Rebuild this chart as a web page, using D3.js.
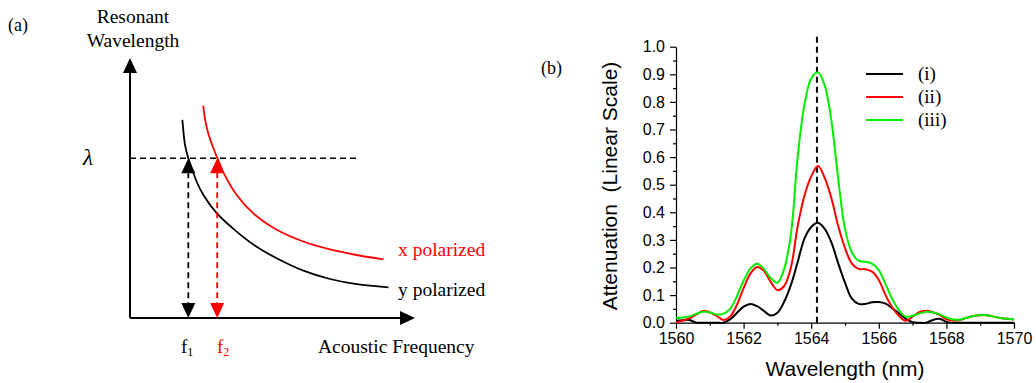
<!DOCTYPE html>
<html>
<head>
<meta charset="utf-8">
<script src="https://cdn.jsdelivr.net/npm/d3@7"></script>
<style>
  html, body { margin: 0; padding: 0; background: #fff; }
  svg { display: block; }
  .serif { font-family: "Liberation Serif", "Times New Roman", serif; }
  .sans { font-family: "Liberation Sans", Arial, sans-serif; }
</style>
</head>
<body>
<svg id="chart" width="1036" height="383"></svg>
<script>
// ---------------- Panel (a): schematic (arbitrary units 0..10) ----------------
const yPolFreq = [1.94, 2.04, 2.16, 2.47, 2.72, 3.21, 3.95, 4.69, 5.56, 6.42, 7.41, 8.40, 9.57];
const yPolLambda = [7.62, 6.65, 6.14, 5.24, 4.73, 4.03, 3.32, 2.74, 2.23, 1.82, 1.50, 1.30, 1.18];
const xPolFreq = [2.715, 2.778, 2.889, 3.037, 3.241, 3.519, 3.952, 4.567, 5.433, 6.419, 7.407, 8.396, 9.381];
const xPolLambda = [8.165, 7.654, 7.135, 6.673, 6.142, 5.473, 4.731, 4.023, 3.392, 2.942, 2.638, 2.423, 2.258];
const lambdaLevel = 6.14;
const lambdaLineEnd = 8.44;
const f1 = 2.16, f2 = 3.23;

// ---------------- Panel (b): measured spectra ----------------
const wavelengths = [
  1560.0,1560.2,1560.4,1560.6,1560.8,1561.0,1561.2,1561.4,1561.6,1561.8,
  1562.0,1562.2,1562.4,1562.6,1562.8,1563.0,1563.2,1563.4,1563.6,1563.8,
  1564.0,1564.2,1564.4,1564.6,1564.8,1565.0,1565.2,1565.4,1565.6,1565.8,
  1566.0,1566.2,1566.4,1566.6,1566.8,1567.0,1567.2,1567.4,1567.6,1567.8,
  1568.0,1568.2,1568.4,1568.6,1568.8,1569.0,1569.2,1569.4,1569.6,1569.8,1570.0];
const seriesI = [
  0.007,0.009,0.010,0.000,0.000,0.000,0.000,0.000,0.012,0.035,
  0.058,0.068,0.060,0.043,0.026,0.036,0.076,0.137,0.220,0.305,
  0.347,0.362,0.340,0.290,0.215,0.145,0.088,0.068,0.068,0.074,
  0.075,0.069,0.052,0.034,0.014,0.002,0.000,0.000,0.010,0.014,
  0.003,0.000,0.000,0.000,0.000,0.000,0.000,0.000,0.000,0.000,0.000];
const seriesII = [
  0.000,0.008,0.016,0.030,0.042,0.038,0.025,0.010,0.022,0.064,
  0.125,0.178,0.202,0.188,0.148,0.118,0.133,0.200,0.350,0.460,
  0.530,0.568,0.525,0.450,0.350,0.270,0.215,0.195,0.194,0.185,
  0.155,0.100,0.055,0.024,0.007,0.022,0.038,0.043,0.038,0.028,
  0.012,0.008,0.010,0.018,0.024,0.027,0.027,0.022,0.017,0.014,0.012];
const seriesIII = [
  0.016,0.019,0.023,0.032,0.040,0.037,0.030,0.032,0.050,0.095,
  0.152,0.196,0.214,0.195,0.162,0.145,0.195,0.320,0.600,0.790,
  0.885,0.907,0.860,0.730,0.520,0.340,0.255,0.225,0.221,0.214,
  0.190,0.140,0.085,0.045,0.022,0.025,0.033,0.040,0.037,0.030,
  0.019,0.012,0.011,0.018,0.024,0.027,0.027,0.022,0.017,0.014,0.012];
const seriesNames = ["(i)", "(ii)", "(iii)"];
const seriesColors = ["#000000", "#ff0000", "#00ee00"];
const peakWavelength = 1564.17;
const xTicks = [1560, 1562, 1564, 1566, 1568, 1570];
const yTicks = [0.0, 0.1, 0.2, 0.3, 0.4, 0.5, 0.6, 0.7, 0.8, 0.9, 1.0];

const svg = d3.select("#chart");

// ================= Panel (a) =================
const ax = d3.scaleLinear().domain([0, 10]).range([130, 400]);
const ay = d3.scaleLinear().domain([0, 10]).range([318, 58]);
const ga = svg.append("g");

// axes with arrowheads
ga.append("line").attr("x1", ax(0)).attr("y1", ay(0)).attr("x2", ax(0)).attr("y2", ay(10) + 4)
  .attr("stroke", "#000").attr("stroke-width", 2);
ga.append("line").attr("x1", ax(0)).attr("y1", ay(0)).attr("x2", ax(10) + 4).attr("y2", ay(0))
  .attr("stroke", "#000").attr("stroke-width", 2);
ga.append("path").attr("d", `M${ax(0)},${ay(10)} L${ax(0) - 7},${ay(10) + 15} L${ax(0) + 7},${ay(10) + 15} Z`).attr("fill", "#000");
ga.append("path").attr("d", `M${ax(10) + 15},${ay(0)} L${ax(10)},${ay(0) - 7} L${ax(10)},${ay(0) + 7} Z`).attr("fill", "#000");

// dashed lambda level
ga.append("line").attr("x1", ax(0)).attr("x2", ax(lambdaLineEnd))
  .attr("y1", ay(lambdaLevel)).attr("y2", ay(lambdaLevel))
  .attr("stroke", "#000").attr("stroke-width", 1.5).attr("stroke-dasharray", "6,4");

// curves
const lineA = d3.line().x(d => ax(d[0])).y(d => ay(d[1])).curve(d3.curveCatmullRom.alpha(0.5));
ga.append("path").datum(yPolFreq.map((f, i) => [f, yPolLambda[i]]))
  .attr("d", lineA).attr("fill", "none").attr("stroke", "#000").attr("stroke-width", 1.8);
ga.append("path").datum(xPolFreq.map((f, i) => [f, xPolLambda[i]]))
  .attr("d", lineA).attr("fill", "none").attr("stroke", "#ff0000").attr("stroke-width", 1.8);

// double arrows f1, f2
[[f1, "#000"], [f2, "#ff0000"]].forEach(([f, c]) => {
  const x = ax(f), yt = ay(lambdaLevel), yb = ay(0);
  ga.append("line").attr("x1", x).attr("x2", x).attr("y1", yt + 14).attr("y2", yb - 14)
    .attr("stroke", c).attr("stroke-width", 1.8).attr("stroke-dasharray", "6,4");
  ga.append("path").attr("d", `M${x},${yt} L${x - 7},${yt + 15} L${x + 7},${yt + 15} Z`).attr("fill", c);
  ga.append("path").attr("d", `M${x},${yb} L${x - 7},${yb - 15} L${x + 7},${yb - 15} Z`).attr("fill", c);
});

// texts panel (a)
ga.append("text").attr("class", "serif").attr("x", 8).attr("y", 31).attr("font-size", 18).text("(a)");
ga.append("text").attr("class", "serif").attr("x", 133).attr("y", 23).attr("font-size", 19.5)
  .attr("text-anchor", "middle").text("Resonant");
ga.append("text").attr("class", "serif").attr("x", 133).attr("y", 47).attr("font-size", 19.5)
  .attr("text-anchor", "middle").text("Wavelength");
ga.append("text").attr("class", "serif").attr("x", 83).attr("y", 165).attr("font-size", 23)
  .attr("font-style", "italic").text("λ");
ga.append("text").attr("class", "serif").attr("x", 398).attr("y", 256).attr("font-size", 19.5)
  .attr("fill", "#ff0000").text("x polarized");
ga.append("text").attr("class", "serif").attr("x", 398).attr("y", 296).attr("font-size", 19.5)
  .attr("fill", "#000").text("y polarized");
const t1 = ga.append("text").attr("class", "serif").attr("x", 181).attr("y", 353).attr("font-size", 19).attr("fill", "#000");
t1.append("tspan").text("f");
t1.append("tspan").attr("font-size", 12).attr("dy", 3).text("1");
const t2 = ga.append("text").attr("class", "serif").attr("x", 217).attr("y", 353).attr("font-size", 19).attr("fill", "#ff0000");
t2.append("tspan").text("f");
t2.append("tspan").attr("font-size", 12).attr("dy", 3).text("2");
ga.append("text").attr("class", "serif").attr("x", 318).attr("y", 353).attr("font-size", 19.5)
  .text("Acoustic Frequency");

// ================= Panel (b) =================
const bx = d3.scaleLinear().domain([1560, 1570]).range([676, 1014]);
const by = d3.scaleLinear().domain([0, 1.0]).range([322.7, 46.7]);
const gb = svg.append("g");

svg.append("text").attr("class", "serif").attr("x", 541).attr("y", 74).attr("font-size", 18).text("(b)");

// minor ticks
gb.append("g").attr("transform", `translate(0,${by(0)})`)
  .call(d3.axisBottom(bx).tickValues(d3.range(1561, 1570, 2)).tickSize(3).tickFormat(""))
  .call(g => g.select(".domain").remove());
gb.append("g").attr("transform", `translate(${bx(1560)},0)`)
  .call(d3.axisLeft(by).tickValues(d3.range(0.05, 1.0, 0.1)).tickSize(3).tickFormat(""))
  .call(g => g.select(".domain").remove());

// major axes
const xAxisG = gb.append("g").attr("transform", `translate(0,${by(0)})`)
  .call(d3.axisBottom(bx).tickValues(xTicks).tickSize(6).tickSizeOuter(0).tickPadding(4).tickFormat(d3.format("d")));
const yAxisG = gb.append("g").attr("transform", `translate(${bx(1560)},0)`)
  .call(d3.axisLeft(by).tickValues(yTicks).tickSize(6).tickSizeOuter(0).tickPadding(5).tickFormat(d3.format(".1f")));
[xAxisG, yAxisG].forEach(g => {
  g.selectAll("text").attr("class", "sans").attr("font-size", 16).attr("fill", "#000");
  g.selectAll("line, path").attr("stroke", "#000").attr("stroke-width", 1.2);
});
gb.selectAll("g.tick line").attr("stroke", "#000").attr("stroke-width", 1.2);

// dashed peak line
gb.append("line").attr("x1", bx(peakWavelength)).attr("x2", bx(peakWavelength))
  .attr("y1", by(0)).attr("y2", by(1.05))
  .attr("stroke", "#000").attr("stroke-width", 2).attr("stroke-dasharray", "6,4");

// curves
const lineB = d3.line().x(d => bx(d[0])).y(d => by(d[1])).curve(d3.curveCatmullRom.alpha(0.5));
[seriesI, seriesII, seriesIII].forEach((s, k) => {
  gb.append("path").datum(wavelengths.map((w, i) => [w, s[i]]))
    .attr("d", lineB).attr("fill", "none").attr("stroke", seriesColors[k]).attr("stroke-width", 2);
});

// legend
seriesNames.forEach((n, k) => {
  const y = 74 + k * 23;
  gb.append("line").attr("x1", 866).attr("x2", 903).attr("y1", y).attr("y2", y)
    .attr("stroke", seriesColors[k]).attr("stroke-width", 2);
  gb.append("text").attr("class", "serif").attr("x", 918).attr("y", y + 6).attr("font-size", 19).text(n);
});

// axis titles
gb.append("text").attr("class", "sans").attr("x", 845).attr("y", 376).attr("font-size", 21)
  .attr("text-anchor", "middle").text("Wavelength (nm)");
gb.append("text").attr("class", "sans").attr("font-size", 21).attr("text-anchor", "middle")
  .attr("transform", "translate(617,186) rotate(-90)").style("white-space", "pre")
  .text("Attenuation  (Linear Scale)");
</script>
</body>
</html>
